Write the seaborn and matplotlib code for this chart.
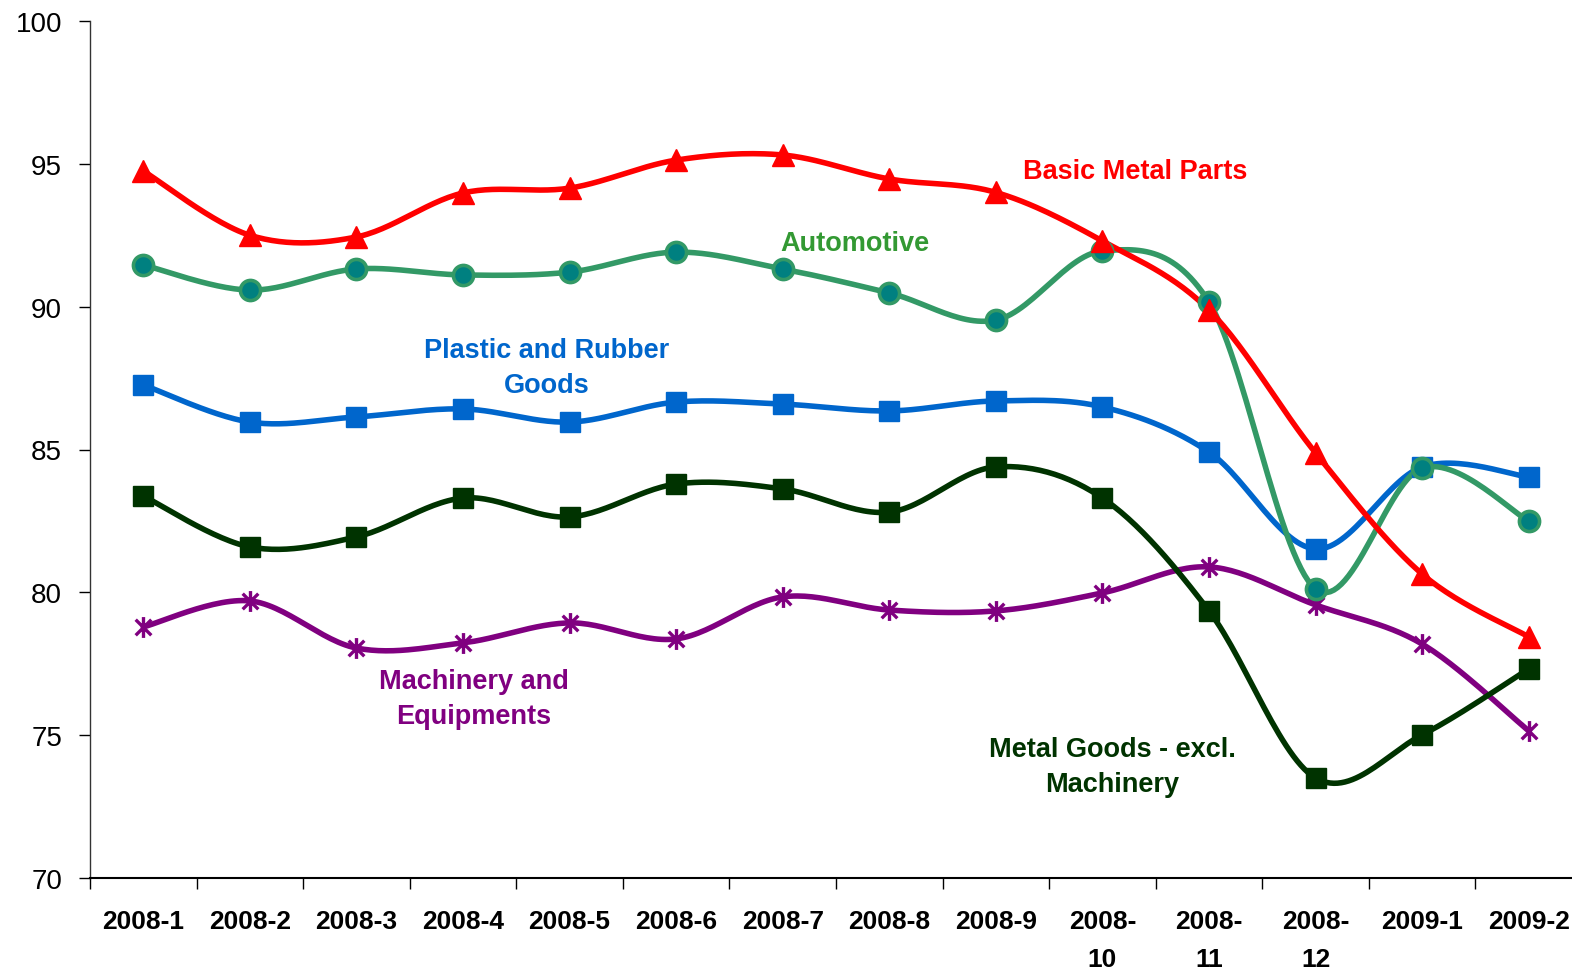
import numpy as np
import pandas as pd
import matplotlib
matplotlib.use("Agg")
import matplotlib.pyplot as plt
from matplotlib.path import Path
import seaborn as sns

categories = ["2008-1", "2008-2", "2008-3", "2008-4", "2008-5", "2008-6", "2008-7",
              "2008-8", "2008-9", "2008-\n10", "2008-\n11", "2008-\n12", "2009-1", "2009-2"]

basic_metal = [94.75, 92.5, 92.44, 93.98, 94.15, 95.13, 95.31, 94.47, 94.0, 92.3, 89.88, 84.88, 80.64, 78.44]
automotive = [91.46, 90.58, 91.32, 91.11, 91.21, 91.91, 91.32, 90.48, 89.53, 91.95, 90.16, 80.12, 84.35, 82.5]
plastic_rubber = [87.26, 85.96, 86.14, 86.42, 85.96, 86.66, 86.59, 86.35, 86.7, 86.49, 84.91, 81.52, 84.39, 84.04]
metal_goods = [83.37, 81.59, 81.94, 83.3, 82.64, 83.79, 83.62, 82.81, 84.39, 83.3, 79.35, 73.5, 75.01, 77.32]
machinery = [78.79, 79.7, 78.05, 78.23, 78.93, 78.37, 79.84, 79.38, 79.35, 79.98, 80.89, 79.56, 78.19, 75.15]

yticks = [70, 75, 80, 85, 90, 95, 100]

sns.set_theme(style="white")
plt.rcParams['font.family'] = ['Liberation Sans', 'DejaVu Sans']
plt.rcParams['text.color'] = 'black'
plt.rcParams['xtick.color'] = 'black'
plt.rcParams['ytick.color'] = 'black'
plt.rcParams['xtick.labelcolor'] = 'black'
plt.rcParams['ytick.labelcolor'] = 'black'

W, H = 1572, 970
fig = plt.figure(figsize=(W / 100, H / 100), dpi=100)
ax = fig.add_axes([90 / W, 91 / H, 1492 / W, 857 / H])

x = np.arange(len(categories)) + 0.5


def smooth(xs, ys, n=30):
    xs = np.asarray(xs, float)
    ys = np.asarray(ys, float)
    P = np.column_stack([xs, ys])
    out = [P[0]]
    for i in range(len(P) - 1):
        p0 = P[i - 1] if i > 0 else P[i]
        p1 = P[i]
        p2 = P[i + 1]
        p3 = P[i + 2] if i + 2 < len(P) else P[i + 1]
        c1 = p1 + (p2 - p0) / 6
        c2 = p2 - (p3 - p1) / 6
        t = np.linspace(0, 1, n)[1:, None]
        b = ((1 - t) ** 3) * p1 + 3 * ((1 - t) ** 2) * t * c1 + 3 * (1 - t) * t ** 2 * c2 + t ** 3 * p2
        out.extend(b)
    out = np.array(out)
    return out[:, 0], out[:, 1]


ast_path = Path([(0, -1), (0, 1), (-0.75, -0.75), (0.75, 0.75), (-0.75, 0.75), (0.75, -0.75)],
                [Path.MOVETO, Path.LINETO, Path.MOVETO, Path.LINETO, Path.MOVETO, Path.LINETO])

series = [
    (machinery, "#800080", ast_path, 15, "#800080", "#800080", 2.4),
    (metal_goods, "#003300", "s", 14, "#003300", "#003300", 1),
    (plastic_rubber, "#0066CC", "s", 14, "#0066CC", "#0066CC", 1),
    (automotive, "#339966", "o", 14.5, "#008080", "#339966", 2.6),
    (basic_metal, "#FF0000", "^", 15.5, "#FF0000", "#FF0000", 1),
]

for vals, col, mk, ms, fc, ec, mew in series:
    sx, sy = smooth(x, vals)
    df = pd.DataFrame({"x": sx, "y": sy})
    sns.lineplot(data=df, x="x", y="y", ax=ax, color=col, lw=4.0, sort=False,
                 estimator=None, legend=False)
    ax.plot(x, vals, linestyle="none", marker=mk, markersize=ms, markerfacecolor=fc,
            markeredgecolor=ec, markeredgewidth=mew, color=col, zorder=5)

ax.set_xlim(0, 14)
ax.set_ylim(70, 100)
ax.set_xlabel("")
ax.set_ylabel("")

ax.set_yticks(yticks)
ax.set_yticklabels([str(v) for v in yticks], fontsize=20)
ax.set_xticks(x)
ax.set_xticklabels(categories, fontsize=19, fontweight="bold", linespacing=1.75, va="top")
ax.set_xticks(np.arange(0, 15), minor=True)
ax.tick_params(axis="x", which="major", length=0, pad=22)
ax.tick_params(axis="x", which="minor", length=8, width=1, color="#000000", direction="out", bottom=True)
ax.tick_params(axis="y", which="major", length=8, width=1, color="#000000", direction="out", left=True, pad=12)

for s in ["top", "right"]:
    ax.spines[s].set_visible(False)
ax.spines["left"].set_color("#333333")
ax.spines["left"].set_linewidth(1)
ax.spines["bottom"].set_color("#000000")
ax.spines["bottom"].set_linewidth(1.5)
ax.grid(False)

lab = dict(fontsize=19.5, fontweight="bold", ha="center", va="center", linespacing=1.45)


def label(px, py, s, c):
    fig.text(px / W, 1 - py / H, s, color=c, **lab)


label(1135, 172, "Basic Metal Parts", "#FF0000")
label(855, 244, "Automotive", "#339933")
label(547, 369, "Plastic and Rubber\nGoods", "#0066CC")
label(474, 700, "Machinery and\nEquipments", "#800080")
label(1112, 768, "Metal Goods - excl.\nMachinery", "#003300")

fig.savefig("out.png", dpi=100)
